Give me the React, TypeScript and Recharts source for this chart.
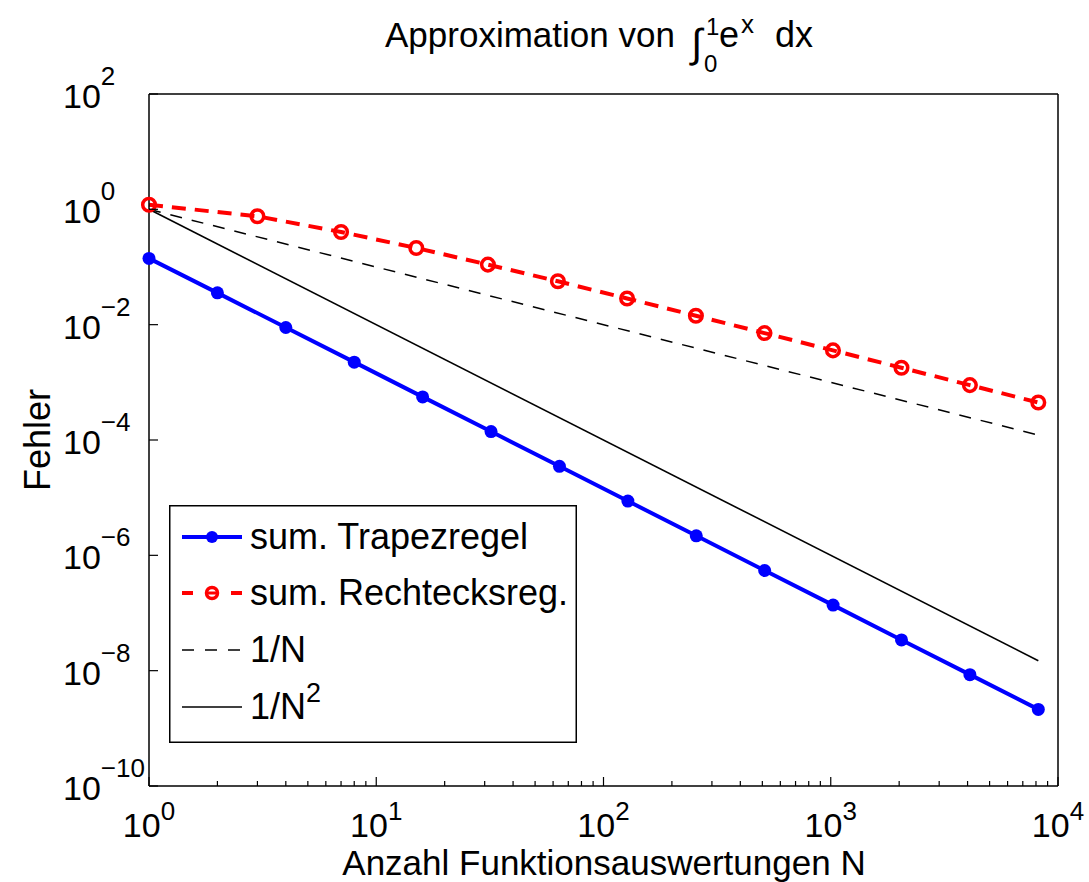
import React from 'react';
import { ComposedChart, Line, XAxis, YAxis, Legend } from 'recharts';

// ---- data ----
const trapN = [1, 2, 4, 8, 16, 32, 64, 128, 256, 512, 1024, 2048, 4096, 8192];
const trapErr = [0.141, 0.0356, 0.00894, 0.00224, 0.000559, 0.00014, 3.5e-5, 8.74e-6, 2.18e-6, 5.46e-7, 1.37e-7, 3.41e-8, 8.53e-9, 2.13e-9];
const rectN = [1, 3, 7, 15, 31, 63, 127, 255, 511, 1023, 2047, 4095, 8191];
const rectErr = [1.2, 0.757, 0.405, 0.214, 0.11, 0.0565, 0.0285, 0.0143, 0.00715, 0.00358, 0.00179, 0.000895, 0.000446];
const refN = [1, 8192];
const invN = [1, 0.000122];
const invN2 = [1, 1.49e-8];

const xMajorTicks = [1, 10, 100, 1000, 10000];
const xMinorFactors = [2, 3, 4, 5, 6, 7, 8, 9];
const yMajorTicks = [1e-10, 1e-8, 1e-6, 1e-4, 1e-2, 1, 100];

const seriesNames = ['sum. Trapezregel', 'sum. Rechtecksreg.', '1/N', '1/N2'];

const toPts = (xs: number[], ys: number[]) => xs.map((x, i) => ({ x, y: ys[i] }));
const trapData = toPts(trapN, trapErr);
const rectData = toPts(rectN, rectErr);
const invNData = toPts(refN, invN);
const invN2Data = toPts(refN, invN2);

const xTicks: number[] = [];
xMajorTicks.forEach((d, i) => {
  xTicks.push(d);
  if (i < xMajorTicks.length - 1) xMinorFactors.forEach((f) => xTicks.push(f * d));
});

const FONT = '"Liberation Sans", Arial, Helvetica, sans-serif';
const W = 1089;
const H = 882;
const PLOT = { left: 149, top: 94, right: 1058, bottom: 786 };
const AX = { bottom: 40, top: 10, left: 60, right: 10 };
const TXT = 36;

const expOf = (v: number) => Math.round(Math.log10(v));
const isMajor = (v: number) => Math.abs(v - Math.pow(10, expOf(v))) < 1e-9 * v;
const expStr = (v: number) => String(expOf(v)).replace('-', '\u2212');

const BottomTick = (props: any) => {
  const { x, y, payload } = props;
  const v = payload.value;
  const major = isMajor(v);
  return (
    <g>
      <line x1={x} x2={x} y1={y} y2={y - (major ? 9 : 5)} stroke="#000" strokeWidth={1.2} />
      {major && (
        <text x={x} y={y + 51} textAnchor="middle" fontFamily={FONT} fontSize={34} fill="#000">
          <tspan>10</tspan>
          <tspan dy={-17} fontSize={26}>{expStr(v)}</tspan>
        </text>
      )}
    </g>
  );
};

const TopTick = (props: any) => {
  const { x, y, payload } = props;
  const major = isMajor(payload.value);
  return <line x1={x} x2={x} y1={y} y2={y + (major ? 9 : 5)} stroke="#000" strokeWidth={1.2} />;
};

const LeftTick = (props: any) => {
  const { x, y, payload } = props;
  const v = payload.value;
  return (
    <g>
      <line x1={x} x2={x + 9} y1={y} y2={y} stroke="#000" strokeWidth={1.2} />
      <text x={x - 86} y={y + 14} textAnchor="start" fontFamily={FONT} fontSize={34} fill="#000">
        <tspan>10</tspan>
        <tspan dy={-23} fontSize={26}>{expStr(v)}</tspan>
      </text>
    </g>
  );
};

const RightTick = (props: any) => {
  const { x, y } = props;
  return <line x1={x} x2={x - 9} y1={y} y2={y} stroke="#000" strokeWidth={1.2} />;
};

const RectDot = (p: any) => {
  if (p.cx == null || p.cy == null) return null;
  return <circle key={`rd-${p.index}`} cx={p.cx} cy={p.cy} r={6.3} fill="none" stroke="#ff0000" strokeWidth={3.5} />;
};
const TrapDot = (p: any) => {
  if (p.cx == null || p.cy == null) return null;
  return <circle key={`td-${p.index}`} cx={p.cx} cy={p.cy} r={6.5} fill="#0000ff" stroke="none" />;
};

const LegendBox = () => {
  const rows = [32, 88, 145, 202];
  const tx = 81;
  return (
    <svg width={408} height={238} style={{ display: 'block' }}>
      <rect x={0.75} y={0.75} width={406.5} height={236.5} fill="#fff" stroke="#000" strokeWidth={1.5} />
      <line x1={13} x2={73} y1={rows[0]} y2={rows[0]} stroke="#0000ff" strokeWidth={4} />
      <circle cx={43} cy={rows[0]} r={6} fill="#0000ff" />
      <text x={tx} y={rows[0] + 12} fontFamily={FONT} fontSize={TXT}>{seriesNames[0]}</text>
      <line x1={13} x2={24} y1={rows[1]} y2={rows[1]} stroke="#ff0000" strokeWidth={4} />
      <line x1={62} x2={73} y1={rows[1]} y2={rows[1]} stroke="#ff0000" strokeWidth={4} />
      <line x1={38} x2={48} y1={rows[1]} y2={rows[1]} stroke="#ff0000" strokeWidth={3} />
      <circle cx={43} cy={rows[1]} r={5.5} fill="none" stroke="#ff0000" strokeWidth={3.5} />
      <text x={tx} y={rows[1] + 12} fontFamily={FONT} fontSize={TXT}>{seriesNames[1]}</text>
      <line x1={13} x2={73} y1={rows[2]} y2={rows[2]} stroke="#000" strokeWidth={1.5} strokeDasharray="12 11" />
      <text x={tx} y={rows[2] + 12} fontFamily={FONT} fontSize={TXT}>{seriesNames[2]}</text>
      <line x1={13} x2={73} y1={rows[3]} y2={rows[3]} stroke="#000" strokeWidth={1.5} />
      <text x={tx} y={rows[3] + 12} fontFamily={FONT} fontSize={TXT}>
        <tspan>1/N</tspan>
        <tspan dy={-17} fontSize={27}>2</tspan>
      </text>
    </svg>
  );
};

export default function App() {
  return (
    <div style={{ position: 'absolute', left: 0, top: 0, width: W, height: H, background: '#fff' }}>
      <ComposedChart
        width={W}
        height={H}
        margin={{
          top: PLOT.top - AX.top,
          left: PLOT.left - AX.left,
          right: W - PLOT.right - AX.right,
          bottom: H - PLOT.bottom - AX.bottom,
        }}
      >
        <XAxis
          xAxisId="b"
          dataKey="x"
          type="number"
          scale="log"
          domain={[1, 10000]}
          ticks={xTicks}
          interval={0}
          orientation="bottom"
          height={AX.bottom}
          tickSize={0}
          tickMargin={0}
          tickLine={false}
          tick={BottomTick}
          axisLine={{ stroke: '#000', strokeWidth: 1.5 }}
        />
        <XAxis
          xAxisId="t"
          dataKey="x"
          type="number"
          scale="log"
          domain={[1, 10000]}
          ticks={xTicks}
          interval={0}
          orientation="top"
          height={AX.top}
          tickSize={0}
          tickMargin={0}
          tickLine={false}
          tick={TopTick}
          axisLine={{ stroke: '#000', strokeWidth: 1.5 }}
        />
        <YAxis
          yAxisId="l"
          type="number"
          scale="log"
          domain={[1e-10, 100]}
          ticks={yMajorTicks}
          interval={0}
          orientation="left"
          width={AX.left}
          tickSize={0}
          tickMargin={0}
          tickLine={false}
          tick={LeftTick}
          axisLine={{ stroke: '#000', strokeWidth: 1.5 }}
        />
        <YAxis
          yAxisId="r"
          type="number"
          scale="log"
          domain={[1e-10, 100]}
          ticks={yMajorTicks}
          interval={0}
          orientation="right"
          width={AX.right}
          tickSize={0}
          tickMargin={0}
          tickLine={false}
          tick={RightTick}
          axisLine={{ stroke: '#000', strokeWidth: 1.5 }}
        />
        <Line
          xAxisId="b"
          yAxisId="l"
          data={trapData}
          dataKey="y"
          name={seriesNames[0]}
          type="linear"
          stroke="#0000ff"
          strokeWidth={4}
          dot={TrapDot}
          activeDot={false}
          isAnimationActive={false}
        />
        <Line
          xAxisId="b"
          yAxisId="l"
          data={rectData}
          dataKey="y"
          name={seriesNames[1]}
          type="linear"
          stroke="#ff0000"
          strokeWidth={4}
          strokeDasharray="14 9"
          dot={RectDot}
          activeDot={false}
          isAnimationActive={false}
        />
        <Line
          xAxisId="b"
          yAxisId="l"
          data={invNData}
          dataKey="y"
          name={seriesNames[2]}
          type="linear"
          stroke="#000"
          strokeWidth={1.5}
          strokeDasharray="12 10"
          dot={false}
          activeDot={false}
          isAnimationActive={false}
        />
        <Line
          xAxisId="b"
          yAxisId="l"
          data={invN2Data}
          dataKey="y"
          name={seriesNames[3]}
          type="linear"
          stroke="#000"
          strokeWidth={1.6}
          dot={false}
          activeDot={false}
          isAnimationActive={false}
        />
        <Legend
          layout="vertical"
          align="center"
          verticalAlign="middle"
          content={LegendBox}
          wrapperStyle={{ position: 'absolute', left: 169, top: 505, width: 408, height: 238 }}
        />
      </ComposedChart>
      <svg
        width={W}
        height={H}
        style={{ position: 'absolute', left: 0, top: 0, pointerEvents: 'none' }}
      >
        <g fontFamily={FONT} fill="#000">
          <text x={385} y={47} fontSize={35}>Approximation von</text>
          <text x={691} y={57} fontSize={40}>{'\u222B'}</text>
          <text x={706} y={35} fontSize={24}>1</text>
          <text x={704} y={72} fontSize={24}>0</text>
          <text x={719} y={47} fontSize={TXT}>e</text>
          <text x={741} y={33} fontSize={26}>x</text>
          <text x={775} y={47} fontSize={TXT}>dx</text>
          <text x={604} y={875} fontSize={35} textAnchor="middle">Anzahl Funktionsauswertungen N</text>
          <text x={50} y={440} fontSize={TXT} textAnchor="middle" transform="rotate(-90 50 440)">Fehler</text>
        </g>
      </svg>
    </div>
  );
}
